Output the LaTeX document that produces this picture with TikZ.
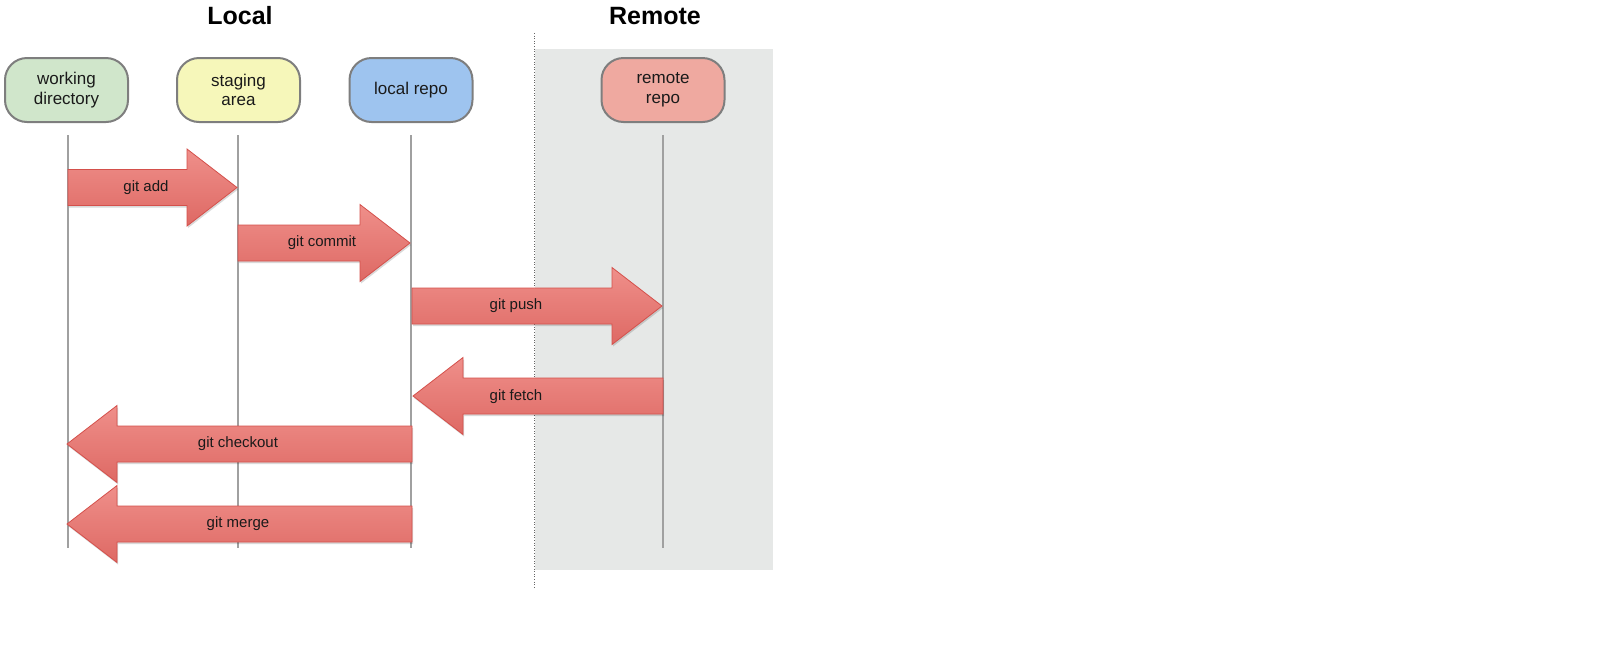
\documentclass[tikz,border=0pt]{standalone}
\usepackage{fontspec}
\setmainfont{Liberation Sans}
\usetikzlibrary{shadows}
\definecolor{wdfill}{HTML}{D0E6CB}
\definecolor{safill}{HTML}{F6F7BA}
\definecolor{lrfill}{HTML}{9EC4EF}
\definecolor{rrfill}{HTML}{EFA9A0}
\definecolor{boxline}{HTML}{7E7E7E}
\definecolor{lifeline}{HTML}{A0A0A0}
\definecolor{remotebg}{HTML}{E6E8E7}
\definecolor{arrtop}{HTML}{EF8F8A}
\definecolor{arrbot}{HTML}{DE6964}
\definecolor{arrline}{HTML}{D4504B}
\definecolor{txt}{HTML}{1A1A1A}
\tikzset{
  repobox/.style={draw=boxline, line width=2pt, rounded corners=22pt,
    minimum width=123pt, minimum height=64pt, inner sep=0pt, align=center,
    font=\fontsize{17}{19.5}\selectfont, text=txt},
  lifelinestyle/.style={draw=lifeline, line width=2pt},
  blockarrow/.style={top color=arrtop, bottom color=arrbot, draw=arrline, line width=0.8pt,
    line join=miter, drop shadow={shadow xshift=1pt, shadow yshift=-2pt, opacity=0.15, fill=black}},
  arrlabel/.style={font=\fontsize{15}{18}\selectfont, text=txt, inner sep=0pt},
  sectiontitle/.style={font=\bfseries\fontsize{25}{30}\selectfont, anchor=base, inner sep=0pt}
}
% #1 start x, #2 tip x, #3 y, #4 direction (1 right, -1 left)
\newcommand\blockarr[4]{%
  \path[blockarrow] (#1,{#3-18}) -- ({#2-#4*50},{#3-18}) -- ({#2-#4*50},{#3-38.5})
    -- (#2,#3) -- ({#2-#4*50},{#3+38.5}) -- ({#2-#4*50},{#3+18}) -- (#1,{#3+18}) -- cycle;}
\begin{document}
\begin{tikzpicture}[x=1pt,y=-1pt]
\useasboundingbox (0,0) rectangle (1610,665);
% remote background
\fill[remotebg] (535,49) rectangle (773,570);
\draw[draw=black!60, line width=0.6pt, dotted] (534,33) -- (534,587);
% titles
\node[sectiontitle] (localtitle) at (240,24) {Local};
\node[sectiontitle] (remotetitle) at (655,24) {Remote};
% boxes
\node[repobox, fill=wdfill] (wd) at (66.5,90) {working\\directory};
\node[repobox, fill=safill] (sa) at (238.5,90) {staging\\area};
\node[repobox, fill=lrfill] (lr) at (411,90) {local repo};
\node[repobox, fill=rrfill] (rr) at (663,90) {remote\\repo};
% lifelines
\coordinate (wdtop) at (68,135);  \coordinate (wdbot) at (68,548);
\coordinate (satop) at (238,135); \coordinate (sabot) at (238,548);
\coordinate (lrtop) at (411,135); \coordinate (lrbot) at (411,548);
\coordinate (rrtop) at (663,135); \coordinate (rrbot) at (663,548);
\draw[lifelinestyle] (wdtop) -- (wdbot);
\draw[lifelinestyle] (satop) -- (sabot);
\draw[lifelinestyle] (lrtop) -- (lrbot);
\draw[lifelinestyle] (rrtop) -- (rrbot);
% arrows
\blockarr{68}{237}{187.5}{1}
\node[arrlabel] (add) at (146,188) {git add};
\blockarr{238}{410}{243}{1}
\node[arrlabel] (commit) at (322,243) {git commit};
\blockarr{412}{662}{306}{1}
\node[arrlabel] (push) at (516,306) {git push};
\blockarr{663}{413}{396}{-1}
\node[arrlabel] (fetch) at (516,397) {git fetch};
\blockarr{412}{67}{444}{-1}
\node[arrlabel] (checkout) at (238,444) {git checkout};
\blockarr{412}{67}{524}{-1}
\node[arrlabel] (merge) at (238,524) {git merge};
\end{tikzpicture}
\end{document}
